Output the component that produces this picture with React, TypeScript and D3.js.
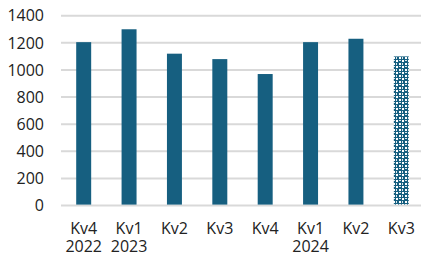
import React from "react";
import * as d3 from "d3";

const quarters = ["Kv4", "Kv1", "Kv2", "Kv3", "Kv4", "Kv1", "Kv2", "Kv3"];
const years = ["2022", "2023", "", "", "", "2024", "", ""];
const values = [1205, 1300, 1120, 1080, 970, 1205, 1230, 1100];
const forecast = [false, false, false, false, false, false, false, true];
const yTicks = [0, 200, 400, 600, 800, 1000, 1200, 1400];

const W = 421;
const H = 259;
const COLOR = "#165f80";
const FONT = "'Open Sans', sans-serif";

export default function App() {
  const ids = quarters.map((_, i) => String(i));
  const x = d3.scaleBand<string>().domain(ids).range([61, 424]).paddingInner(0.67).paddingOuter(0.335);
  const y = d3.scaleLinear().domain([0, 1400]).range([205.6, 15.7]);
  return (
    <svg width={W} height={H} style={{ position: "absolute", left: 0, top: 0 }}>
      <defs>
        <pattern id="pat" width={6} height={6} patternUnits="userSpaceOnUse">
          <rect width={6} height={6} fill={COLOR} />
          <rect x={0} y={0} width={2} height={2} fill="#ffffff" />
          <rect x={3} y={3} width={2} height={2} fill="#ffffff" />
          <rect x={3} y={0} width={2} height={1} fill="#dfe9ee" />
          <rect x={0} y={3} width={1} height={2} fill="#dfe9ee" />
        </pattern>
      </defs>
      <rect width={W} height={H} fill="#fff" />
      {yTicks.map((t) => (
        <g key={t}>
          <line x1={61} x2={424} y1={y(t)} y2={y(t)} stroke="#d9d9d9" strokeWidth={2} />
          <text x={44} y={y(t)} dy="0.36em" textAnchor="end" fontFamily={FONT} fontSize={16} fill="#222">
            {t}
          </text>
        </g>
      ))}
      {values.map((v, i) => (
        <rect
          key={i}
          x={x(ids[i])}
          y={y(v)}
          width={x.bandwidth()}
          height={y(0) - y(v) - 1}
          fill={forecast[i] ? "url(#pat)" : COLOR}
        />
      ))}
      {quarters.map((q, i) => {
        const cx = (x(ids[i]) as number) + x.bandwidth() / 2;
        return (
          <text key={i} x={cx} y={234} textAnchor="middle" fontFamily={FONT} fontSize={16} fill="#222">
            <tspan x={cx}>{q}</tspan>
            {years[i] && (
              <tspan x={cx} dy={18}>
                {years[i]}
              </tspan>
            )}
          </text>
        );
      })}
    </svg>
  );
}
